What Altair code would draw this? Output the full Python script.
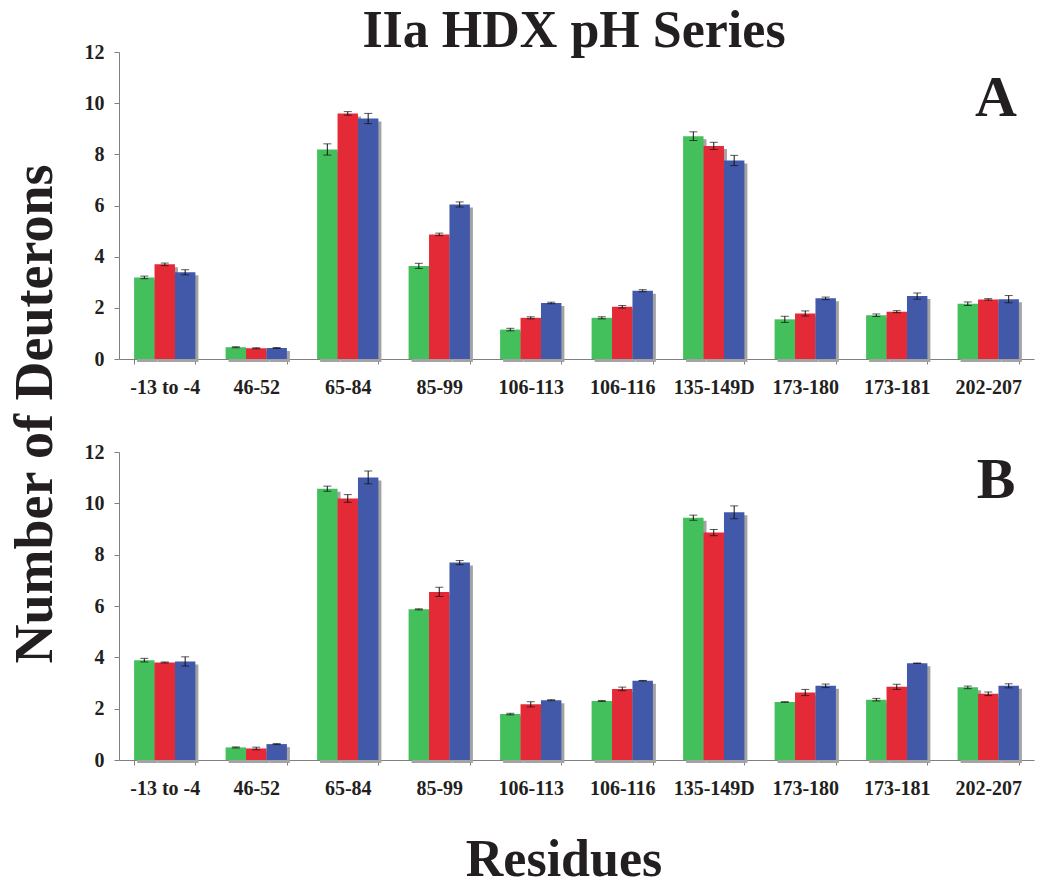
import altair as alt
import pandas as pd

# ---------------- data ----------------
categories = ["-13 to -4", "46-52", "65-84", "85-99", "106-113",
              "106-116", "135-149D", "173-180", "173-181", "202-207"]
series_names = ["Series 1", "Series 2", "Series 3"]
series_colors = ["#43bf5b", "#e32a36", "#4259a9"]
panel_labels = ["A", "B"]
y_ticks = [0, 2, 4, 6, 8, 10, 12]

A_green = [3.19, 0.46, 8.19, 3.64, 1.15, 1.61, 8.71, 1.55, 1.71, 2.16]
A_red = [3.70, 0.42, 9.60, 4.87, 1.61, 2.04, 8.33, 1.78, 1.85, 2.33]
A_blue = [3.39, 0.43, 9.40, 6.04, 2.19, 2.67, 7.76, 2.37, 2.46, 2.34]
A_green_err = [0.05, 0.02, 0.22, 0.10, 0.05, 0.04, 0.17, 0.12, 0.05, 0.07]
A_red_err = [0.05, 0.02, 0.07, 0.05, 0.04, 0.05, 0.14, 0.10, 0.04, 0.03]
A_blue_err = [0.10, 0.02, 0.20, 0.10, 0.03, 0.04, 0.20, 0.05, 0.12, 0.14]

B_green = [3.89, 0.49, 10.57, 5.87, 1.79, 2.30, 9.44, 2.26, 2.35, 2.83]
B_red = [3.80, 0.45, 10.19, 6.55, 2.17, 2.77, 8.86, 2.63, 2.85, 2.58]
B_blue = [3.84, 0.62, 11.01, 7.69, 2.33, 3.09, 9.65, 2.89, 3.77, 2.89]
B_green_err = [0.07, 0.02, 0.10, 0.02, 0.03, 0.02, 0.10, 0.01, 0.05, 0.05]
B_red_err = [0.02, 0.05, 0.15, 0.18, 0.10, 0.07, 0.12, 0.12, 0.10, 0.07]
B_blue_err = [0.18, 0.02, 0.25, 0.08, 0.02, 0.01, 0.25, 0.07, 0.01, 0.08]

main_title = "IIa HDX pH Series"
y_title = "Number of Deuterons"
x_title = "Residues"

# ---------------- layout constants ----------------
FONT = "Liberation Serif"
INK = "#231f20"
W, H = 915, 307
P_IN, P_OUT = 0.33, 0.165


def long_df(vals, errs):
    rows = []
    for s, v_list, e_list in zip(series_names, vals, errs):
        for c, v, e in zip(categories, v_list, e_list):
            rows.append({"cat": c, "series": s, "value": v, "lo": v - e, "hi": v + e})
    return pd.DataFrame(rows)


dfA = long_df([A_green, A_red, A_blue], [A_green_err, A_red_err, A_blue_err])
dfB = long_df([B_green, B_red, B_blue], [B_green_err, B_red_err, B_blue_err])

y_axis = alt.Axis(
    values=y_ticks, title=None, grid=False, labelFont=FONT, labelFontSize=20,
    labelFontWeight="bold", labelColor=INK, labelPadding=10, tickSize=5,
    tickColor="#808080", domainColor="#808080")


def make_panel(df, label, label_y, extras, height):
    base = alt.Chart(df)
    xscale = alt.Scale(domain=categories, paddingInner=P_IN, paddingOuter=P_OUT)
    x_noaxis = alt.X("cat:N", scale=xscale, sort=categories, axis=None)
    xoff = alt.XOffset("series:N", sort=series_names,
                       scale=alt.Scale(domain=series_names, paddingInner=0, paddingOuter=0))
    yscale = alt.Scale(domain=[0, 12], nice=False)

    shadow = base.mark_bar(color="#a3a3a3", yOffset=3).encode(
        x=alt.X("cat:N", sort=categories, axis=None,
                scale=alt.Scale(domain=categories, range=[3, W + 3],
                                paddingInner=P_IN, paddingOuter=P_OUT)),
        xOffset=xoff, y=alt.Y("value:Q", scale=yscale, axis=y_axis))

    bars = base.mark_bar().encode(
        x=alt.X("cat:N", scale=xscale, sort=categories, axis=alt.Axis(
            title=None, labelAngle=0, labelFont=FONT, labelFontSize=20,
            labelFontWeight="bold", labelColor=INK, labelPadding=13, tickSize=5,
            tickBand="extent", tickColor="#808080", domainColor="#808080")),
        xOffset=xoff, y=alt.Y("value:Q", scale=yscale, axis=y_axis),
        color=alt.Color("series:N", scale=alt.Scale(domain=series_names, range=series_colors),
                        legend=None))

    rules = base.mark_rule(color="#111111", strokeWidth=1).encode(
        x=x_noaxis, xOffset=xoff, y=alt.Y("lo:Q", scale=yscale, axis=y_axis), y2="hi:Q")
    cap_lo = base.mark_tick(color="#111111", size=8, thickness=1).encode(
        x=x_noaxis, xOffset=xoff, y=alt.Y("lo:Q", scale=yscale, axis=y_axis))
    cap_hi = base.mark_tick(color="#111111", size=8, thickness=1).encode(
        x=x_noaxis, xOffset=xoff, y=alt.Y("hi:Q", scale=yscale, axis=y_axis))

    lab = alt.Chart(pd.DataFrame({"t": [label]})).mark_text(
        font=FONT, fontSize=58, fontWeight="bold", color=INK, align="center",
        baseline="alphabetic").encode(text="t:N", x=alt.value(877), y=alt.value(label_y))

    return alt.layer(shadow, bars, rules, cap_lo, cap_hi, lab, *extras).resolve_scale(
        x="independent").properties(width=W, height=height)


title_txt = alt.Chart(pd.DataFrame({"t": [main_title]})).mark_text(
    font=FONT, fontSize=52, fontWeight="bold", color=INK, align="center",
    baseline="alphabetic").encode(text="t:N", x=alt.value(455), y=alt.value(-5))
ytitle_txt = alt.Chart(pd.DataFrame({"t": [y_title]})).mark_text(
    font=FONT, fontSize=54, fontWeight="bold", color=INK, align="center",
    baseline="middle", angle=270).encode(text="t:N", x=alt.value(-83), y=alt.value(362))
xtitle_txt = alt.Chart(pd.DataFrame({"t": [x_title]})).mark_text(
    font=FONT, fontSize=52, fontWeight="bold", color=INK, align="center",
    baseline="alphabetic").encode(text="t:N", x=alt.value(445), y=alt.value(424))

panelA = make_panel(dfA, panel_labels[0], 64, [title_txt, ytitle_txt], H)
panelB = make_panel(dfB, panel_labels[1], 46, [xtitle_txt], H + 1)

chart = alt.vconcat(panelA, panelB, spacing=93, bounds="flush").properties(
    padding={"left": 0, "top": -3, "right": 5, "bottom": 0}, background="white"
).configure_view(strokeWidth=0, stroke="transparent")

chart.save("out.html", embed_options={"renderer": "svg", "actions": False})
